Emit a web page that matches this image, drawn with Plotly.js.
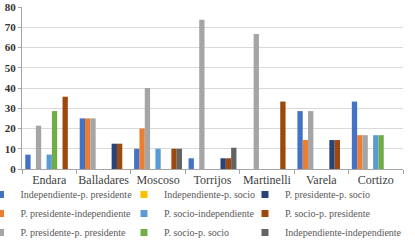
<!DOCTYPE html>
<html><head><meta charset="utf-8">
<script src="https://cdn.plot.ly/plotly-3.0.1.min.js"></script>
<style>html,body{margin:0;padding:0;background:#fff}#chart{width:415px;height:247px}</style>
</head><body><div id="chart"></div>
<script>
const categories = ["Endara","Balladares","Moscoso","Torrijos","Martinelli","Varela","Cortizo"];
const seriesNames = ["Independiente-p. presidente","P. presidente-independiente","P. presidente-p. presidente","Independiente-p. socio","P. socio-independiente","P. socio-p. socio","P. presidente-p. socio","P. socio-p. presidente","Independiente-independiente"];
const seriesColors = ["#4472C4","#ED7D31","#A5A5A5","#FFC000","#5B9BD5","#70AD47","#264478","#9E480E","#636363"];
const indepPPresidente = [7.1, 25, 10, 5.3, 0, 28.6, 33.3];
const pPresidenteIndep = [0, 25, 20, 0, 0, 14.3, 16.7];
const pPresidentePPresidente = [21.4, 25, 40, 73.7, 66.7, 28.6, 16.7];
const indepPSocio = [0, 0, 0, 0, 0, 0, 0];
const pSocioIndep = [7.1, 0, 10, 0, 0, 0, 16.7];
const pSocioPSocio = [28.6, 0, 0, 0, 0, 0, 16.7];
const pPresidentePSocio = [0, 12.5, 0, 5.3, 0, 14.3, 0];
const pSocioPPresidente = [35.7, 12.5, 10, 5.3, 33.3, 14.3, 0];
const indepIndep = [0, 0, 10, 10.5, 0, 0, 0];
const yTicks = [0,10,20,30,40,50,60,70,80];

const seriesValues = [indepPPresidente,pPresidenteIndep,pPresidentePPresidente,indepPSocio,pSocioIndep,pSocioPSocio,pPresidentePSocio,pSocioPPresidente,indepIndep];
const legendIds = ["legend","legend","legend","legend2","legend2","legend2","legend3","legend3","legend3"];

const traces = [];
seriesValues.forEach((vals,i)=>{
  traces.push({type:"bar", x:categories, y:vals, name:seriesNames[i], marker:{color:seriesColors[i]}, showlegend:false, hoverinfo:"none"});
});
seriesValues.forEach((vals,i)=>{
  traces.push({type:"scatter", mode:"markers", x:[categories[0]], y:[null], name:seriesNames[i],
    marker:{symbol:"square", size:7, color:seriesColors[i]}, legend:legendIds[i], showlegend:true, hoverinfo:"none"});
});

const fam = "Liberation Serif, Times New Roman, serif";
const legendBase = {orientation:"v", yanchor:"top", y:-0.068, xanchor:"left", bgcolor:"rgba(0,0,0,0)",
  font:{family:fam, size:10, color:"#595959"}, tracegroupgap:0, itemwidth:30};
const layout = {
  width:415, height:247,
  margin:{l:22, r:12, t:7, b:78, autoexpand:false},
  paper_bgcolor:"#fff", plot_bgcolor:"#fff",
  font:{family:fam, color:"#404040"},
  barmode:"group", bargap:0.12, bargroupgap:0,
  xaxis:{type:"category", tickson:"boundaries", ticks:"outside", ticklen:4, tickcolor:"#a6a6a6", tickangle:0,
    showline:true, linecolor:"#a6a6a6", linewidth:1, showgrid:false, tickfont:{size:12, color:"#404040", family:fam}},
  yaxis:{range:[0,80], tickvals:yTicks, ticks:"outside", ticklen:3, tickcolor:"#a6a6a6", showline:true, linecolor:"#a6a6a6",
    gridcolor:"#d9d9d9", gridwidth:1, zeroline:false, tickfont:{size:11, color:"#333333", family:fam, weight:"bold"}},
  legend:Object.assign({}, legendBase, {x:-0.1089}),
  legend2:Object.assign({}, legendBase, {x:0.2677}),
  legend3:Object.assign({}, legendBase, {x:0.5853}),
  showlegend:true
};
Plotly.newPlot("chart", traces, layout, {displayModeBar:false, staticPlot:true});
</script></body></html>
